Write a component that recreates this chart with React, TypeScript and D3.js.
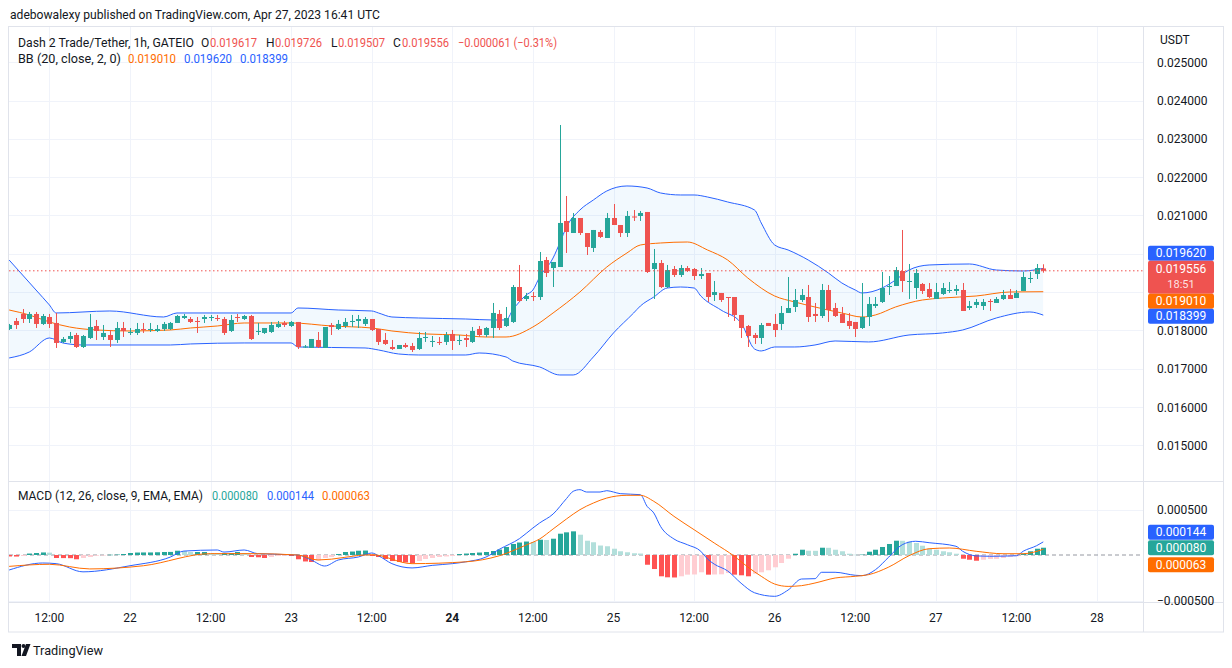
import React from "react";
import * as d3 from "d3";

// ---------- DATA ----------
const firstBarTime = Date.UTC(2023, 3, 21, 6); // Apr 21 2023 06:00 UTC, 1h bars

const openP = [
  0.018037, 0.018246, 0.018429, 0.018298, 0.018429, 0.018168, 0.018350, 0.018194, 0.017698, 0.017776,
  0.017880, 0.017567, 0.017802, 0.018115, 0.017828, 0.017880, 0.017750, 0.018063, 0.017933, 0.017933,
  0.018037, 0.018011, 0.017985, 0.018037, 0.018037, 0.018194, 0.018324, 0.018298, 0.018246, 0.018298,
  0.018324, 0.018324, 0.018298, 0.017985, 0.018350, 0.018298, 0.018376, 0.017959, 0.017933, 0.017959,
  0.018089, 0.018194, 0.018115, 0.018220, 0.017554, 0.017541, 0.017750, 0.017541, 0.018141, 0.018037,
  0.018115, 0.018220, 0.018246, 0.018168, 0.018298, 0.018037, 0.017750, 0.017567, 0.017515, 0.017619,
  0.017593, 0.017515, 0.017802, 0.017698, 0.017698, 0.017698, 0.017907, 0.017724, 0.017802, 0.017698,
  0.018037, 0.017880, 0.018063, 0.018429, 0.018115, 0.018220, 0.019133, 0.018820, 0.018898, 0.018872,
  0.019838, 0.019629, 0.019655, 0.020857, 0.020543, 0.020935, 0.020543, 0.020152, 0.020570, 0.020413,
  0.020935, 0.020752, 0.020543, 0.020974, 0.020987, 0.021092, 0.019603, 0.019760, 0.019133, 0.019603,
  0.019447, 0.019629, 0.019603, 0.019420, 0.019499, 0.018925, 0.018977, 0.018872, 0.018872, 0.018403,
  0.018115, 0.017880, 0.017802, 0.018194, 0.018168, 0.018168, 0.018455, 0.018611, 0.018794, 0.018872,
  0.018429, 0.018376, 0.019055, 0.018585, 0.018429, 0.018246, 0.018220, 0.018063, 0.018350, 0.018637,
  0.018742, 0.019133, 0.019159, 0.019551, 0.019264, 0.019107, 0.019212, 0.019081, 0.018820, 0.018951,
  0.019029, 0.019029, 0.019055, 0.018585, 0.018664, 0.018637, 0.018768, 0.018716, 0.018820, 0.018925,
  0.018846, 0.019029, 0.019342, 0.019473, 0.019617,
];
const highP = [
  0.018168, 0.018324, 0.018559, 0.018481, 0.018481, 0.018429, 0.018429, 0.018455, 0.017828, 0.017959,
  0.017933, 0.017880, 0.018429, 0.018272, 0.018141, 0.018011, 0.018220, 0.018220, 0.018063, 0.018194,
  0.018194, 0.018194, 0.018141, 0.018220, 0.018220, 0.018403, 0.018429, 0.018350, 0.018350, 0.018403,
  0.018403, 0.018403, 0.018350, 0.018403, 0.018429, 0.018403, 0.018403, 0.018194, 0.018063, 0.018220,
  0.018246, 0.018246, 0.018246, 0.018220, 0.017619, 0.017776, 0.017959, 0.018089, 0.018194, 0.018272,
  0.018324, 0.018403, 0.018403, 0.018350, 0.018298, 0.018037, 0.017933, 0.017750, 0.017619, 0.017672,
  0.017672, 0.017959, 0.017959, 0.017854, 0.017828, 0.017959, 0.018011, 0.017880, 0.017907, 0.018089,
  0.018115, 0.018089, 0.018716, 0.018533, 0.018611, 0.019186, 0.019708, 0.018977, 0.019003, 0.020047,
  0.019917, 0.019786, 0.023363, 0.021509, 0.021066, 0.020935, 0.020543, 0.020622, 0.020622, 0.021066,
  0.021300, 0.020752, 0.021118, 0.021144, 0.021118, 0.021092, 0.020126, 0.019838, 0.019708, 0.019681,
  0.019708, 0.019681, 0.019629, 0.019629, 0.019499, 0.019290, 0.018977, 0.018872, 0.018872, 0.018403,
  0.018141, 0.017933, 0.018194, 0.018194, 0.018429, 0.018637, 0.019394, 0.019081, 0.019081, 0.019186,
  0.018716, 0.019212, 0.019186, 0.018716, 0.018611, 0.018455, 0.018220, 0.019238, 0.018872, 0.018872,
  0.019525, 0.019420, 0.019655, 0.020622, 0.019734, 0.019603, 0.019238, 0.019238, 0.019238, 0.019238,
  0.019264, 0.019186, 0.019238, 0.018768, 0.018820, 0.018820, 0.018820, 0.018872, 0.019055, 0.019081,
  0.019055, 0.019525, 0.019525, 0.019734, 0.019726,
];
const lowP = [
  0.018011, 0.018037, 0.018194, 0.018194, 0.018063, 0.018141, 0.018063, 0.017541, 0.017672, 0.017672,
  0.017541, 0.017541, 0.017776, 0.017750, 0.017750, 0.017567, 0.017672, 0.017828, 0.017880, 0.017880,
  0.017933, 0.017959, 0.017959, 0.017985, 0.018011, 0.018194, 0.018298, 0.018194, 0.017933, 0.018194,
  0.018246, 0.018246, 0.017880, 0.017959, 0.018220, 0.018272, 0.017750, 0.017880, 0.017907, 0.017933,
  0.018063, 0.018089, 0.018089, 0.017515, 0.017541, 0.017541, 0.017541, 0.017541, 0.017880, 0.018011,
  0.018063, 0.018089, 0.018063, 0.018115, 0.017985, 0.017619, 0.017619, 0.017489, 0.017515, 0.017541,
  0.017436, 0.017489, 0.017698, 0.017567, 0.017619, 0.017619, 0.017489, 0.017619, 0.017567, 0.017672,
  0.017828, 0.017828, 0.017802, 0.018011, 0.018089, 0.018194, 0.018742, 0.018768, 0.018768, 0.018794,
  0.019394, 0.019133, 0.019655, 0.020021, 0.020543, 0.020491, 0.019969, 0.020047, 0.020413, 0.020413,
  0.020752, 0.020439, 0.020439, 0.020857, 0.020857, 0.019499, 0.018820, 0.019107, 0.019107, 0.019394,
  0.019394, 0.019525, 0.019316, 0.019342, 0.018742, 0.018768, 0.018742, 0.018350, 0.018246, 0.017802,
  0.017567, 0.017646, 0.017646, 0.018115, 0.017828, 0.018011, 0.018455, 0.018481, 0.018742, 0.018220,
  0.018220, 0.018324, 0.018220, 0.018350, 0.018194, 0.018037, 0.017828, 0.018037, 0.018115, 0.018585,
  0.018716, 0.018925, 0.019159, 0.019003, 0.018820, 0.018820, 0.018951, 0.018846, 0.018820, 0.018925,
  0.018977, 0.018925, 0.018507, 0.018533, 0.018585, 0.018533, 0.018507, 0.018716, 0.018794, 0.018820,
  0.018846, 0.019029, 0.019238, 0.019342, 0.019507,
];
const closeP = [
  0.018141, 0.018141, 0.018298, 0.018429, 0.018168, 0.018376, 0.018168, 0.017672, 0.017776, 0.017854,
  0.017567, 0.017854, 0.018089, 0.017985, 0.017933, 0.017750, 0.018063, 0.017985, 0.017959, 0.018037,
  0.018011, 0.018037, 0.018037, 0.018168, 0.018194, 0.018376, 0.018376, 0.018220, 0.018220, 0.018350,
  0.018350, 0.018298, 0.017933, 0.018272, 0.018324, 0.018376, 0.017776, 0.017985, 0.018063, 0.018141,
  0.018168, 0.018141, 0.018220, 0.017567, 0.017580, 0.017776, 0.017567, 0.018089, 0.018089, 0.018168,
  0.018220, 0.018246, 0.018298, 0.018298, 0.018011, 0.017698, 0.017646, 0.017515, 0.017619, 0.017567,
  0.017489, 0.017802, 0.017828, 0.017724, 0.017672, 0.017880, 0.017724, 0.017750, 0.017750, 0.017985,
  0.017880, 0.018063, 0.018455, 0.018063, 0.018324, 0.019133, 0.018768, 0.018898, 0.018872, 0.019812,
  0.019499, 0.019786, 0.020805, 0.020570, 0.020935, 0.020543, 0.020178, 0.020622, 0.020439, 0.020935,
  0.020752, 0.020543, 0.020987, 0.020948, 0.021066, 0.019525, 0.019760, 0.019133, 0.019577, 0.019447,
  0.019629, 0.019551, 0.019420, 0.019473, 0.018872, 0.019003, 0.018794, 0.018854, 0.018403, 0.018063,
  0.017854, 0.017802, 0.018141, 0.018115, 0.018011, 0.018455, 0.018585, 0.018794, 0.018925, 0.018350,
  0.018376, 0.019055, 0.018533, 0.018376, 0.018194, 0.018115, 0.018037, 0.018350, 0.018690, 0.018690,
  0.019107, 0.019159, 0.019577, 0.019290, 0.019290, 0.019499, 0.019029, 0.018872, 0.019003, 0.019107,
  0.019055, 0.019081, 0.018507, 0.018637, 0.018742, 0.018742, 0.018742, 0.018820, 0.018925, 0.018820,
  0.018977, 0.019394, 0.019368, 0.019629, 0.019556,
];

// Bollinger Bands (20, close, 2): values read at bar numbers (1-based)
const bbUpperBar = [1, 5, 7, 8, 16, 24, 26, 37, 43, 44, 50, 55, 56, 58, 62, 69, 73, 75, 76, 78, 79, 80, 82, 83, 84, 86, 88, 90, 93, 96, 98, 101, 103, 105, 108, 112, 113, 115, 117, 120, 123, 125, 127, 128, 131, 133, 135, 138, 144, 148, 152, 155];
const bbUpperVal = [0.019838, 0.019055, 0.018664, 0.018455, 0.018507, 0.018350, 0.018455, 0.018455, 0.018455, 0.018585, 0.018533, 0.018507, 0.018455, 0.018350, 0.018324, 0.018298, 0.018272, 0.018272, 0.018533, 0.018925, 0.019055, 0.019394, 0.019891, 0.020282, 0.020700, 0.021144, 0.021405, 0.021640, 0.021771, 0.021718, 0.021588, 0.021536, 0.021536, 0.021483, 0.021353, 0.021144, 0.020805, 0.020230, 0.020100, 0.019838, 0.019499, 0.019238, 0.019055, 0.018977, 0.019107, 0.019316, 0.019577, 0.019708, 0.019734, 0.019577, 0.019551, 0.019620];
const bbMidBar = [1, 4, 7, 10, 14, 19, 25, 28, 32, 36, 43, 49, 55, 58, 63, 68, 72, 75, 79, 82, 86, 90, 93, 95, 98, 102, 105, 108, 111, 115, 118, 121, 125, 128, 130, 133, 137, 140, 145, 150, 155];
const bbMidVal = [0.018533, 0.018403, 0.018220, 0.018089, 0.018011, 0.017985, 0.018011, 0.018063, 0.018115, 0.018194, 0.018194, 0.018115, 0.018063, 0.017985, 0.017907, 0.017880, 0.017828, 0.017828, 0.018089, 0.018455, 0.019003, 0.019655, 0.020021, 0.020230, 0.020282, 0.020308, 0.020100, 0.019838, 0.019368, 0.018898, 0.018742, 0.018611, 0.018455, 0.018350, 0.018403, 0.018611, 0.018794, 0.018846, 0.018898, 0.019003, 0.019010];
const bbLowerBar = [1, 4, 7, 9, 12, 25, 28, 36, 43, 44, 54, 56, 59, 62, 69, 71, 75, 76, 80, 83, 85, 88, 91, 94, 95, 97, 99, 101, 103, 104, 107, 110, 112, 113, 115, 118, 121, 124, 129, 135, 140, 143, 148, 153, 155];
const bbLowerVal = [0.017280, 0.017436, 0.017802, 0.017672, 0.017619, 0.017619, 0.017646, 0.017672, 0.017672, 0.017567, 0.017541, 0.017489, 0.017384, 0.017358, 0.017358, 0.017410, 0.017306, 0.017201, 0.017045, 0.016836, 0.016836, 0.017306, 0.017933, 0.018455, 0.018637, 0.018872, 0.019107, 0.019133, 0.019107, 0.018898, 0.018533, 0.018194, 0.017515, 0.017463, 0.017567, 0.017567, 0.017619, 0.017724, 0.017698, 0.017880, 0.017933, 0.018011, 0.018324, 0.018481, 0.018399];

// MACD (12, 26, close, 9): histogram per bar, lines read at bar numbers
const macdHist = [
  -0.000016, -0.000017, -0.000011, 0.000016, 0.000022, 0.000028, 0.000026, -0.000033, -0.000034, -0.000035,
  -0.000047, -0.000033, -0.000022, -0.000008, -0.000004, 0.000003, 0.000005, 0.000011, 0.000022, 0.000027,
  0.000028, 0.000028, 0.000030, 0.000033, 0.000034, 0.000047, 0.000044, 0.000033, 0.000033, 0.000033,
  0.000022, 0.000020, 0.000020, 0.000022, 0.000033, 0.000020, -0.000022, -0.000025, -0.000033, -0.000022,
  -0.000011, -0.000008, -0.000011, -0.000047, -0.000071, -0.000077, -0.000060, -0.000033, -0.000022, 0.000011,
  0.000033, 0.000038, 0.000047, 0.000049, -0.000011, -0.000022, -0.000044, -0.000066, -0.000077, -0.000082,
  -0.000088, -0.000066, -0.000044, -0.000033, -0.000022, -0.000016, -0.000011, 0.000011, 0.000016, 0.000022,
  0.000027, 0.000033, 0.000044, 0.000060, 0.000088, 0.000121, 0.000137, 0.000148, 0.000143, 0.000168,
  0.000165, 0.000179, 0.000234, 0.000249, 0.000260, 0.000223, 0.000157, 0.000140, 0.000104, 0.000096,
  0.000069, 0.000041, 0.000030, 0.000019, 0.000016, -0.000107, -0.000154, -0.000234, -0.000245, -0.000247,
  -0.000234, -0.000216, -0.000214, -0.000190, -0.000216, -0.000214, -0.000212, -0.000198, -0.000216, -0.000223,
  -0.000234, -0.000206, -0.000190, -0.000168, -0.000135, -0.000088, -0.000041, 0.000014, 0.000058, 0.000047,
  0.000046, 0.000080, 0.000079, 0.000058, 0.000041, 0.000014, 0.000003, 0.000005, 0.000036, 0.000058,
  0.000088, 0.000121, 0.000157, 0.000156, 0.000146, 0.000132, 0.000102, 0.000069, 0.000058, 0.000041,
  0.000030, 0.000014, -0.000041, -0.000052, -0.000063, -0.000052, -0.000044, -0.000043, -0.000033, -0.000022,
  -0.000014, 0.000014, 0.000041, 0.000069, 0.000080,
];
const macdBar = [1, 6, 8, 12, 19, 25, 27, 32, 33, 36, 38, 44, 46, 48, 50, 53, 55, 56, 58, 61, 64, 67, 69, 72, 74, 77, 79, 80, 82, 84, 85, 86, 87, 89, 90, 91, 92, 95, 96, 97, 98, 100, 102, 104, 105, 106, 108, 110, 112, 115, 117, 119, 121, 122, 124, 127, 128, 130, 132, 134, 136, 138, 142, 143, 145, 147, 151, 152, 154, 155];
const macdVal = [-0.000165, -0.000088, -0.000095, -0.000185, -0.000118, -0.000023, 0.000043, 0.000055, 0.000032, 0.000055, 0.000015, 0.000000, -0.000055, -0.000121, -0.000055, -0.000022, 0.000022, -0.000008, -0.000095, -0.000142, -0.000114, -0.000095, -0.000075, -0.000023, 0.000063, 0.000180, 0.000297, 0.000352, 0.000450, 0.000620, 0.000700, 0.000718, 0.000692, 0.000692, 0.000707, 0.000692, 0.000674, 0.000663, 0.000535, 0.000462, 0.000315, 0.000176, 0.000113, 0.000041, -0.000044, -0.000100, -0.000175, -0.000310, -0.000415, -0.000454, -0.000385, -0.000264, -0.000260, -0.000190, -0.000190, -0.000223, -0.000227, -0.000162, -0.000022, 0.000113, 0.000151, 0.000135, 0.000096, 0.000041, -0.000010, -0.000014, -0.000008, 0.000041, 0.000102, 0.000144];
const signalBar = [1, 7, 13, 21, 31, 37, 44, 47, 55, 61, 69, 74, 78, 80, 82, 84, 86, 88, 90, 93, 95, 97, 100, 103, 106, 109, 111, 113, 115, 117, 119, 121, 124, 127, 129, 132, 135, 138, 141, 145, 149, 152, 155];
const signalVal = [-0.000125, -0.000102, -0.000153, -0.000118, 0.000015, 0.000015, 0.000000, -0.000055, 0.000004, -0.000095, -0.000075, -0.000008, 0.000110, 0.000176, 0.000286, 0.000396, 0.000498, 0.000571, 0.000626, 0.000656, 0.000656, 0.000590, 0.000425, 0.000278, 0.000132, -0.000014, -0.000132, -0.000234, -0.000319, -0.000345, -0.000337, -0.000308, -0.000253, -0.000234, -0.000216, -0.000132, -0.000008, 0.000069, 0.000077, 0.000041, 0.000014, 0.000014, 0.000063];

const priceTicks = [0.015, 0.016, 0.017, 0.018, 0.019, 0.020, 0.021, 0.022, 0.023, 0.024, 0.025];
const macdTicks = [0.0005, -0.0005];

// ---------- STYLE / LAYOUT ----------
const FONT = "Roboto, 'Noto Sans', Arial, sans-serif";
const TXT = "#131722";
const GRID = "#f0f3fa";
const BORDER = "#e0e3eb";
const UP = "#26a69a";
const DOWN = "#ef5350";
const BLUE = "#2962ff";
const ORANGE = "#ff6d00";

const PL = 9, PR = 1143;
const MAIN_T = 27, MAIN_B = 481;
const MACD_T = 482, MACD_B = 602;
const AXIS_B = 632;
const FRAME_L = 8, FRAME_R = 1224;

const x = d3.scaleUtc().domain([new Date(Date.UTC(2023, 3, 22)), new Date(Date.UTC(2023, 3, 28))]).range([130, 1097]);
const y = d3.scaleLinear().domain([0.015, 0.025]).range([445.3, 62.3]);
const ym = d3.scaleLinear().domain([-0.0005, 0.0005]).range([600.5, 509.5]);

const times = openP.map((_, i) => d3.utcHour.offset(new Date(firstBarTime), i));
const fmtP = d3.format(".6f");
const fmtSigned = (v: number) => (v < 0 ? "\u2212" : "") + fmtP(Math.abs(v));

function linePath(bars: number[], vals: number[], ys: (v: number) => number) {
  const pts: [number, number][] = bars.map((b, k) => [x(times[b - 1]), ys(vals[k])]);
  return d3.line().curve(d3.curveMonotoneX)(pts) || "";
}

export default function App() {
  const n = Math.min(openP.length, highP.length, lowP.length, closeP.length);
  const idx = d3.range(n);

  const upperPath = linePath(bbUpperBar, bbUpperVal, y);
  const midPath = linePath(bbMidBar, bbMidVal, y);
  const lowerPath = linePath(bbLowerBar, bbLowerVal, y);
  const xs0 = x(times[0]);
  const xs1 = x(times[n - 1]);
  const belowUpper = upperPath + `L${xs1},2000L${xs0},2000Z`;
  const aboveLower = lowerPath + `L${xs1},-1000L${xs0},-1000Z`;

  const macdPath = linePath(macdBar, macdVal, ym);
  const sigPath = linePath(signalBar, signalVal, ym);

  const ticks12 = d3.utcHour.every(12)!.range(new Date(Date.UTC(2023, 3, 21, 12)), new Date(Date.UTC(2023, 3, 28, 1)));

  const last = n - 1;
  const lastClose = closeP[last];
  const lastY = y(lastClose);
  const change = closeP[last] - openP[last];
  const changePct = (change / openP[last]) * 100;

  // price-axis labels (stacked so they do not overlap)
  const redTop = lastY - 10, redH = 33, bh = 15;
  const upTop = Math.min(y(bbUpperVal[bbUpperVal.length - 1]) - bh / 2, redTop - bh);
  const midTop = Math.max(y(bbMidVal[bbMidVal.length - 1]) - bh / 2, redTop + redH);
  const lowTop = Math.max(y(bbLowerVal[bbLowerVal.length - 1]) - bh / 2, midTop + bh);
  const covered: [number, number][] = [
    [upTop, upTop + bh], [redTop, redTop + redH], [midTop, midTop + bh], [lowTop, lowTop + bh],
  ];
  const tickVisible = (yy: number) => !covered.some(([a, b]) => yy > a - 4 && yy < b + 4);
  // macd labels
  const histLast = macdHist[macdHist.length - 1];
  const macdLast = macdVal[macdVal.length - 1];
  const sigLast = signalVal[signalVal.length - 1];
  const gTop = ym(histLast) - bh / 2;
  const bTop = Math.min(ym(macdLast) - bh / 2, gTop - bh - 0.5);
  const oTop = Math.max(ym(sigLast) - bh / 2, gTop + bh + 2);

  const histColor = (i: number) => {
    const v = macdHist[i];
    const p = i > 0 ? macdHist[i - 1] : v;
    if (v >= 0) return v >= p ? "#26a69a" : "#b2dfdb";
    return v <= p ? "#ff5252" : "#ffcdd2";
  };

  const box = (top: number, fill: string, label: string, key: string) => (
    <g key={key}>
      <rect x={1148} y={top} width={66} height={bh} rx={2} fill={fill} />
      <text x={1181} y={top + 11.3} textAnchor="middle" fill="#fff" fontSize={12}>{label}</text>
    </g>
  );

  const lg = (xx: number, yy: number, fill: string, s: string, len?: number) => (
    <text x={xx} y={yy} fill={fill} textLength={len} lengthAdjust={len ? "spacingAndGlyphs" : undefined}>{s}</text>
  );

  return (
    <svg width={1232} height={668} style={{ position: "absolute", left: 0, top: 0, background: "#fff" }} fontFamily={FONT}>
      <defs>
        <clipPath id="mainClip"><rect x={PL} y={MAIN_T} width={PR - PL} height={MAIN_B - MAIN_T} /></clipPath>
        <clipPath id="macdClip"><rect x={PL} y={MACD_T} width={PR - PL} height={MACD_B - MACD_T} /></clipPath>
        <clipPath id="bbClip"><path d={belowUpper} /></clipPath>
      </defs>
      <rect x={0} y={0} width={1232} height={668} fill="#fff" />

      {/* header */}
      <text x={10} y={18.5} fontSize={13} fill={TXT} textLength={370} lengthAdjust="spacingAndGlyphs">
        adebowalexy published on TradingView.com, Apr 27, 2023 16:41 UTC
      </text>

      {/* frame */}
      <rect x={FRAME_L + 0.5} y={26.5} width={FRAME_R - FRAME_L - 1} height={AXIS_B - 26.5} fill="none" stroke={BORDER} />

      {/* grids */}
      {priceTicks.map((t) => (
        <line key={"pg" + t} x1={PL} x2={PR} y1={Math.round(y(t)) + 0.5} y2={Math.round(y(t)) + 0.5} stroke={GRID} />
      ))}
      {macdTicks.map((t) => (
        <line key={"mg" + t} x1={PL} x2={PR} y1={Math.round(ym(t)) + 0.5} y2={Math.round(ym(t)) + 0.5} stroke={GRID} />
      ))}
      {ticks12.map((t) => {
        const xx = Math.round(x(t)) + 0.5;
        return (
          <g key={"vg" + t.getTime()}>
            <line x1={xx} x2={xx} y1={MAIN_T} y2={MAIN_B} stroke={GRID} />
            <line x1={xx} x2={xx} y1={MACD_T} y2={MACD_B} stroke={GRID} />
          </g>
        );
      })}

      {/* pane separators */}
      <line x1={FRAME_L} x2={FRAME_R} y1={481.5} y2={481.5} stroke={BORDER} />
      <line x1={FRAME_L} x2={FRAME_R} y1={602.5} y2={602.5} stroke={BORDER} />
      <line x1={PR + 0.5} x2={PR + 0.5} y1={26.5} y2={AXIS_B} stroke={BORDER} />

      {/* main pane */}
      <g clipPath="url(#mainClip)">
        <path d={aboveLower} fill="rgba(33,150,243,0.06)" clipPath="url(#bbClip)" />
        <path d={upperPath} fill="none" stroke={BLUE} strokeWidth={1} />
        <path d={lowerPath} fill="none" stroke={BLUE} strokeWidth={1} />
        <path d={midPath} fill="none" stroke={ORANGE} strokeWidth={1} />
        {idx.map((i) => {
          const cx = Math.round(x(times[i]));
          const up = closeP[i] >= openP[i];
          const col = up ? UP : DOWN;
          const yo = y(openP[i]), yc = y(closeP[i]);
          const top = Math.min(yo, yc);
          const h = Math.max(1, Math.abs(yo - yc));
          return (
            <g key={"c" + i}>
              <line x1={cx + 0.5} x2={cx + 0.5} y1={y(highP[i])} y2={y(lowP[i])} stroke={col} strokeWidth={1} />
              <rect x={cx - 2} y={top} width={5} height={h} fill={col} />
            </g>
          );
        })}
        <line x1={PL} x2={PR} y1={lastY} y2={lastY} stroke={DOWN} strokeWidth={1} strokeDasharray="1.5 2.5" />
      </g>

      {/* legends */}
      <g fontSize={12}>
        {lg(18, 46.5, TXT, "Dash 2 Trade/Tether, 1h, GATEIO", 176)}
        {lg(201, 46.5, TXT, "O")}
        {lg(210, 46.5, DOWN, fmtP(openP[last]), 47)}
        {lg(266, 46.5, TXT, "H")}
        {lg(275, 46.5, DOWN, fmtP(highP[last]), 47)}
        {lg(331, 46.5, TXT, "L")}
        {lg(338, 46.5, DOWN, fmtP(lowP[last]), 47)}
        {lg(393, 46.5, TXT, "C")}
        {lg(402, 46.5, DOWN, fmtP(closeP[last]), 47)}
        {lg(458, 46.5, DOWN, fmtSigned(change) + " (" + (change >= 0 ? "+" : "\u2212") + Math.abs(changePct).toFixed(2) + "%)", 99)}

        {lg(18, 62.5, TXT, "BB (20, close, 2, 0)", 103)}
        {lg(128, 62.5, ORANGE, fmtP(bbMidVal[bbMidVal.length - 1]), 48)}
        {lg(184, 62.5, BLUE, fmtP(bbUpperVal[bbUpperVal.length - 1]), 48)}
        {lg(240, 62.5, BLUE, fmtP(bbLowerVal[bbLowerVal.length - 1]), 48)}

        {lg(18, 499.5, TXT, "MACD (12, 26, close, 9, EMA, EMA)", 185)}
        {lg(212, 499.5, UP, fmtP(histLast), 46)}
        {lg(267, 499.5, BLUE, fmtP(macdLast), 47)}
        {lg(322, 499.5, ORANGE, fmtP(sigLast), 48)}
      </g>

      {/* MACD pane */}
      <g clipPath="url(#macdClip)">
        <line x1={PL} x2={PR + 6} y1={ym(0)} y2={ym(0)} stroke="#9598a1" strokeDasharray="4 3" strokeWidth={1} />
        {idx.map((i) => {
          const cx = Math.round(x(times[i]));
          const v = macdHist[i];
          const y0 = ym(0), y1 = ym(v);
          return <rect key={"h" + i} x={cx - 2} y={Math.min(y0, y1)} width={5} height={Math.max(0.5, Math.abs(y1 - y0))} fill={histColor(i)} />;
        })}
        <path d={macdPath} fill="none" stroke={BLUE} strokeWidth={1} />
        <path d={sigPath} fill="none" stroke={ORANGE} strokeWidth={1} />
      </g>

      {/* price axis */}
      <text x={1160} y={44} fontSize={12} fill={TXT}>USDT</text>
      {priceTicks.filter((t) => tickVisible(y(t))).map((t) => (
        <text key={"pt" + t} x={1157} y={y(t) + 4.5} fontSize={12} fill={TXT}>{fmtP(t)}</text>
      ))}
      {macdTicks.map((t) => (
        <text key={"mt" + t} x={1157} y={ym(t) + 4.5} fontSize={12} fill={TXT}>{fmtSigned(t)}</text>
      ))}

      {/* value labels on price axis */}
      {box(upTop, BLUE, fmtP(bbUpperVal[bbUpperVal.length - 1]), "bu")}
      <g>
        <rect x={1148} y={redTop} width={66} height={redH} rx={2} fill={DOWN} />
        <text x={1181} y={redTop + 12.5} textAnchor="middle" fill="#fff" fontSize={12}>{fmtP(lastClose)}</text>
        <text x={1181} y={redTop + 27} textAnchor="middle" fill="rgba(255,255,255,0.85)" fontSize={11}>18:51</text>
      </g>
      {box(midTop, ORANGE, fmtP(bbMidVal[bbMidVal.length - 1]), "bm")}
      {box(lowTop, BLUE, fmtP(bbLowerVal[bbLowerVal.length - 1]), "bl")}

      {box(bTop, BLUE, fmtP(macdLast), "mb")}
      {box(gTop, UP, fmtP(histLast), "mg")}
      {box(oTop, ORANGE, fmtP(sigLast), "mo")}

      {/* time axis */}
      {ticks12.map((t) => {
        const isDay = t.getUTCHours() === 0;
        const label = isDay ? d3.utcFormat("%-d")(t) : "12:00";
        const bold = isDay && t.getUTCDay() === 1;
        return (
          <text key={"tt" + t.getTime()} x={x(t)} y={621.5} textAnchor="middle" fontSize={12} fill={TXT} fontWeight={bold ? 700 : 400}>
            {label}
          </text>
        );
      })}

      {/* TradingView logo */}
      <g fill={TXT}>
        <path d="M12 644 h9 v12 h-4 v-8 h-5 z" />
        <circle cx={23.5} cy={646} r={2} />
        <path d="M26 644 h4.5 l-4.5 12 h-4.5 z" />
      </g>
      <text x={33} y={655} fontSize={13} fill={TXT} textLength={70} lengthAdjust="spacingAndGlyphs">TradingView</text>
    </svg>
  );
}
